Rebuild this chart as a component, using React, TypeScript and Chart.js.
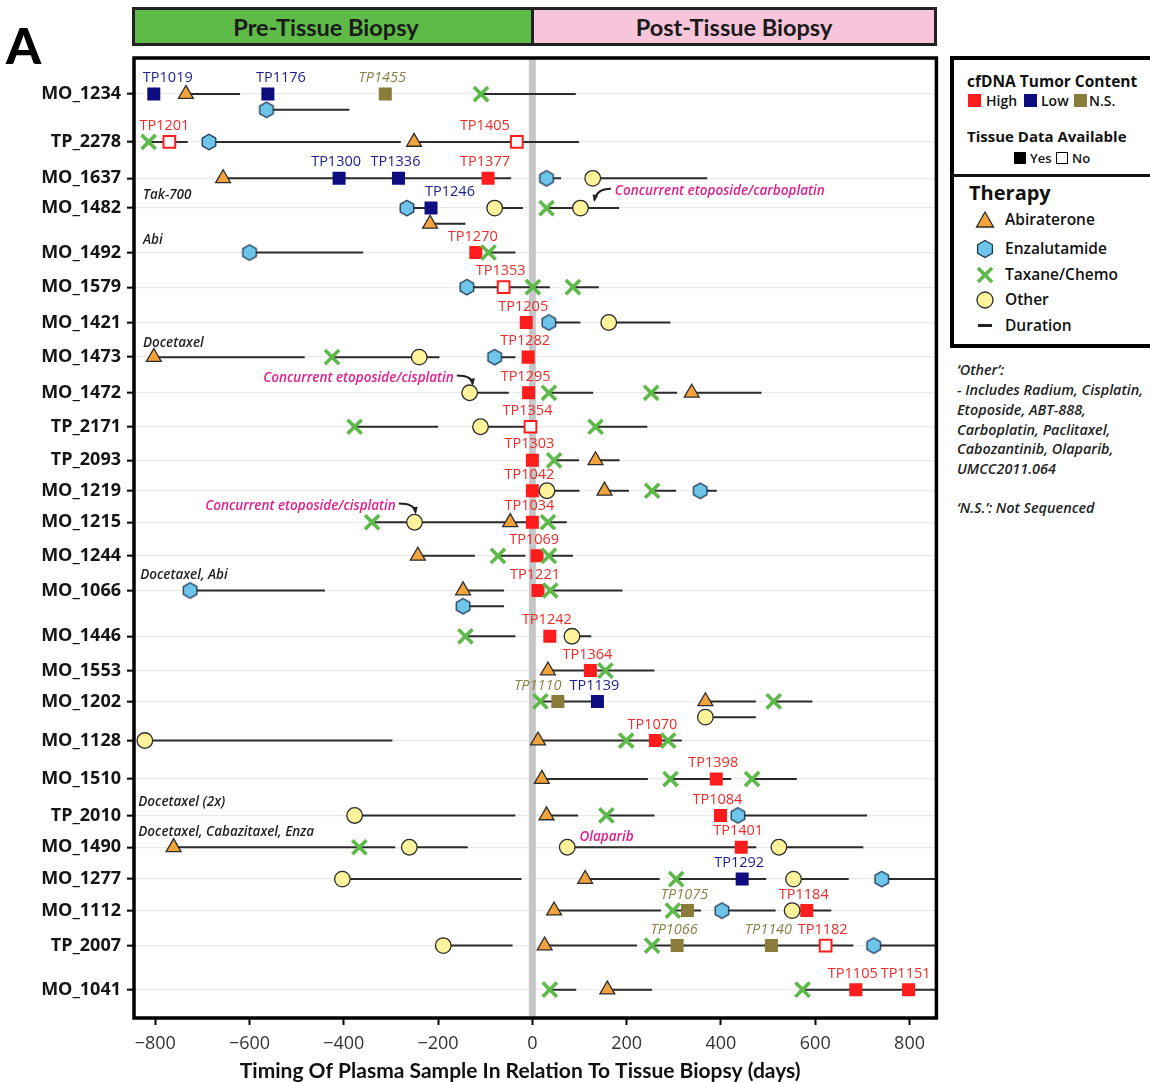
import React, { useEffect, useRef } from 'react';
import { Chart, registerables } from 'chart.js';

Chart.register(...registerables);

// ---------------- DATA ----------------
const patients = ['MO_1234','TP_2278','MO_1637','MO_1482','MO_1492','MO_1579','MO_1421','MO_1473','MO_1472','TP_2171','TP_2093','MO_1219','MO_1215','MO_1244','MO_1066','MO_1446','MO_1553','MO_1202','MO_1128','MO_1510','TP_2010','MO_1490','MO_1277','MO_1112','TP_2007','MO_1041'];
// vertical slot of each patient row (row units, top = 0)
const rowPos = [1.03,2.4,3.44,4.29,5.56,6.55,7.56,8.55,9.57,10.54,11.5,12.37,13.27,14.23,15.22,16.53,17.51,18.39,19.51,20.61,21.65,22.56,23.47,24.37,25.37,26.63];
const xTicks = [-800,-600,-400,-200,0,200,400,600,800];
const xTitle = 'Timing Of Plasma Sample In Relation To Tissue Biopsy (days)';

// therapy: [patient, sub-lane, start day, end day]
const abiraterone: [string, number, number, number][] = [
  ['MO_1234',0,-735,-620],['TP_2278',0,-251,99],['MO_1637',0,-656,-45],['MO_1482',1,-217,-142],
  ['MO_1473',0,-803,-483],['MO_1472',0,338,486],['TP_2093',0,134,185],['MO_1219',0,153,205],
  ['MO_1215',0,-47,5],['MO_1244',0,-243,-122],['MO_1066',0,-147,-60],['MO_1553',0,33,150],
  ['MO_1202',0,367,474],['MO_1128',0,12,199],['MO_1510',0,20,245],['TP_2010',0,30,97],
  ['MO_1490',0,-761,-367],['MO_1277',0,112,270],['MO_1112',0,46,273],['TP_2007',0,26,222],
  ['MO_1041',0,159,254],
];
const enzalutamide: [string, number, number, number][] = [
  ['MO_1234',1,-564,-388],['TP_2278',0,-686,-279],['MO_1637',0,30,61],['MO_1482',0,-266,-215],
  ['MO_1492',0,-600,-359],['MO_1579',0,-139,-5],['MO_1421',0,35,102],['MO_1473',0,-80,-36],
  ['MO_1219',0,356,391],['MO_1066',0,-726,-440],['MO_1066',1,-147,-60],['TP_2010',0,436,710],
  ['MO_1277',0,741,900],['MO_1112',0,402,516],['TP_2007',0,724,900],
];
const taxaneChemo: [string, number, number, number][] = [
  ['MO_1234',0,-109,92],['TP_2278',0,-814,-731],['MO_1482',0,30,95],['MO_1492',0,-93,-36],
  ['MO_1579',0,1,37],['MO_1579',0,86,141],['MO_1473',0,-425,-240],['MO_1472',0,35,129],
  ['MO_1472',0,252,307],['TP_2171',0,-377,-200],['TP_2171',0,134,244],['TP_2093',0,46,99],
  ['MO_1219',0,254,305],['MO_1215',0,-340,-250],['MO_1215',0,33,73],['MO_1244',0,-73,-15],
  ['MO_1244',0,35,86],['MO_1066',0,38,191],['MO_1446',0,-142,-36],['MO_1553',0,155,259],
  ['MO_1202',0,17,138],['MO_1202',0,512,594],['MO_1128',0,199,288],['MO_1128',0,288,317],
  ['MO_1510',0,293,422],['MO_1510',0,466,561],['TP_2010',0,157,259],['MO_1490',0,-367,-291],
  ['MO_1277',0,305,496],['MO_1112',0,298,358],['TP_2007',0,254,681],['MO_1041',0,37,93],
  ['MO_1041',0,573,900],
];
const otherTherapy: [string, number, number, number][] = [
  ['MO_1637',0,128,371],['MO_1482',0,-80,-20],['MO_1482',0,102,184],['MO_1421',0,162,293],
  ['MO_1473',0,-240,-197],['MO_1472',0,-133,-50],['TP_2171',0,-110,-10],['MO_1219',0,31,100],
  ['MO_1215',0,-250,-47],['MO_1446',0,84,125],['MO_1202',1,367,474],['MO_1128',0,-822,-297],
  ['TP_2010',0,-377,-36],['MO_1490',0,-261,-137],['MO_1490',0,74,475],['MO_1490',0,523,702],
  ['MO_1277',0,-403,-23],['MO_1277',0,554,671],['MO_1112',0,551,634],['TP_2007',0,-189,-42],
];

// plasma samples: [patient, sample, day]
const highWithTissue: [string, string, number][] = [
  ['MO_1637','TP1377',-94],['MO_1492','TP1270',-120],['MO_1421','TP1205',-13],['MO_1473','TP1282',-9],
  ['MO_1472','TP1295',-8],['TP_2093','TP1303',0],['MO_1219','TP1042',0],['MO_1215','TP1034',0],
  ['MO_1244','TP1069',10],['MO_1066','TP1221',12],['MO_1446','TP1242',37],['MO_1553','TP1364',123],
  ['MO_1128','TP1070',261],['MO_1510','TP1398',390],['TP_2010','TP1084',399],['MO_1490','TP1401',443],
  ['MO_1112','TP1184',582],['MO_1041','TP1105',686],['MO_1041','TP1151',798],
];
const highNoTissue: [string, string, number][] = [
  ['TP_2278','TP1201',-770],['TP_2278','TP1405',-33],['MO_1579','TP1353',-61],['TP_2171','TP1354',-4],
  ['TP_2007','TP1182',622],
];
const lowWithTissue: [string, string, number][] = [
  ['MO_1234','TP1019',-803],['MO_1234','TP1176',-561],['MO_1637','TP1300',-410],['MO_1637','TP1336',-284],
  ['MO_1482','TP1246',-215],['MO_1202','TP1139',138],['MO_1277','TP1292',445],
];
const notSequenced: [string, string, number][] = [
  ['MO_1234','TP1455',-312],['MO_1202','TP1110',54],['MO_1112','TP1075',329],['TP_2007','TP1066',307],
  ['TP_2007','TP1140',507],
];

// text notes: [patient, text, day]
const blackNotes: [string, string, number][] = [
  ['MO_1482','Tak-700',-826],['MO_1492','Abi',-826],['MO_1473','Docetaxel',-826],
  ['MO_1066','Docetaxel, Abi',-832],['TP_2010','Docetaxel (2x)',-836],
  ['MO_1490','Docetaxel, Cabazitaxel, Enza',-836],
];
const magentaNotes: [string, string, number][] = [
  ['MO_1482','Concurrent etoposide/carboplatin',175],
  ['MO_1472','Concurrent etoposide/cisplatin',-571],
  ['MO_1215','Concurrent etoposide/cisplatin',-694],
  ['MO_1490','Olaparib',100],
];
// arrows: [magenta note index, target "other" day]
const noteArrows: [number, number][] = [[0, 102], [1, -133], [2, -250]];

// ---------------- STYLE / LAYOUT ----------------
const LANE = 0.45;
const noteDy: Record<string, number> = {
  'Tak-700': -0.38, 'Abi': -0.36, 'Docetaxel': -0.4, 'Docetaxel, Abi': -0.45,
  'Docetaxel (2x)': -0.38, 'Docetaxel, Cabazitaxel, Enza': -0.43,
};
const magentaDy = [-0.47, -0.41, -0.45, -0.28];
const arrowStyle = [
  { side: 'left', tipDx: 14, tipDy: -8 },
  { side: 'right', tipDx: 3, tipDy: -9 },
  { side: 'right', tipDx: 1, tipDy: -10 },
];
const labelNudge: Record<string, number> = { TP1019: 14, TP1176: 13, TP1246: 19, TP1110: -20, TP1405: -32, TP1201: -5 };

const COL = {
  high: '#ff1c1c', highText: '#ee2a2a', low: '#0d0d80', lowText: '#1c1c8c', ns: '#8a7c3a', nsText: '#8a8048',
  abi: '#f2a33c', enza: '#6dc6ea', tax: '#5cb94a', other: '#fff49c', line: '#2b2b2b', magenta: '#e0208c',
};
const NOTE_FONT = 'italic 600 13.5px "Open Sans"';

const yOf = (p: string, lane: number) => rowPos[patients.indexOf(p)] + lane * LANE;

function makeHex(): HTMLCanvasElement {
  const c = document.createElement('canvas');
  c.width = 20; c.height = 20;
  const g = c.getContext('2d')!;
  const R = 7.8;
  g.beginPath();
  for (let i = 0; i < 6; i++) {
    const a = Math.PI / 3 * i - Math.PI / 2;
    const px = 10 + R * Math.cos(a), py = 10 + R * Math.sin(a);
    if (i === 0) g.moveTo(px, py); else g.lineTo(px, py);
  }
  g.closePath();
  g.fillStyle = COL.enza; g.fill();
  g.lineWidth = 1.3; g.strokeStyle = '#1d3550'; g.stroke();
  return c;
}

function drawArrow(ctx: CanvasRenderingContext2D, sx: number, sy: number, cx: number, cy: number, tx: number, ty: number) {
  ctx.beginPath();
  ctx.moveTo(sx, sy);
  ctx.quadraticCurveTo(cx, cy, tx, ty);
  ctx.strokeStyle = '#222'; ctx.lineWidth = 2; ctx.stroke();
  const ang = Math.atan2(ty - cy, tx - cx);
  const L = 6;
  ctx.beginPath();
  ctx.moveTo(tx + Math.cos(ang) * 2, ty + Math.sin(ang) * 2);
  ctx.lineTo(tx - L * Math.cos(ang - 0.5), ty - L * Math.sin(ang - 0.5));
  ctx.lineTo(tx - L * Math.cos(ang + 0.5), ty - L * Math.sin(ang + 0.5));
  ctx.closePath(); ctx.fillStyle = '#222'; ctx.fill();
}

const overlay = {
  id: 'overlay',
  beforeDatasetsDraw(chart: any) {
    const { ctx, chartArea: a, scales } = chart;
    const x0 = scales.x.getPixelForValue(0);
    ctx.save();
    ctx.fillStyle = '#c6c6c6';
    ctx.fillRect(x0 - 3.5, a.top, 7, a.bottom - a.top);
    ctx.restore();
  },
  afterDatasetsDraw(chart: any) {
    const { ctx, chartArea: a, scales: { x, y } } = chart;
    ctx.save();
    // sample labels
    chart.data.datasets.forEach((ds: any, i: number) => {
      if (!ds.sampleNames) return;
      const meta = chart.getDatasetMeta(i);
      ctx.font = ds.labelFont;
      ctx.fillStyle = ds.labelColor;
      ctx.textAlign = 'center';
      ctx.textBaseline = 'middle';
      meta.data.forEach((el: any, j: number) => {
        const name = ds.sampleNames[j];
        const dx = labelNudge[name] ?? -3;
        ctx.fillText(name, el.x + dx, el.y - 16);
      });
    });
    // black italic notes
    ctx.textAlign = 'left'; ctx.textBaseline = 'middle';
    ctx.font = NOTE_FONT;
    ctx.fillStyle = '#1e1e1e';
    blackNotes.forEach(([p, t, d]) => {
      ctx.fillText(t, x.getPixelForValue(d), y.getPixelForValue(yOf(p, 0) + noteDy[t]));
    });
    // magenta notes
    ctx.fillStyle = COL.magenta;
    const boxes: any[] = [];
    magentaNotes.forEach(([p, t, d], i) => {
      const px = x.getPixelForValue(d), py = y.getPixelForValue(yOf(p, 0) + magentaDy[i]);
      ctx.fillText(t, px, py);
      boxes.push({ l: px, r: px + ctx.measureText(t).width, y: py, p });
    });
    noteArrows.forEach(([ni, day], k) => {
      const b = boxes[ni];
      const st = arrowStyle[k];
      const tx = x.getPixelForValue(day) + st.tipDx;
      const ty = y.getPixelForValue(yOf(b.p, 0)) + st.tipDy;
      const sx = st.side === 'left' ? b.l - 4 : b.r + 3;
      const sy = b.y - 3;
      drawArrow(ctx, sx, sy, tx + (st.side === 'left' ? 2 : -1), sy, tx, ty);
    });
    // frame
    ctx.strokeStyle = '#000';
    ctx.lineWidth = 3.5;
    ctx.strokeRect(a.left, a.top, a.right - a.left, a.bottom - a.top);
    // axis title (centred slightly left of plot centre, as in the figure)
    ctx.font = 'bold 21px Lato';
    ctx.fillStyle = '#111';
    ctx.textAlign = 'center';
    ctx.textBaseline = 'middle';
    ctx.fillText(xTitle, (a.left + a.right) / 2 - 15, chart.height - 11);
    ctx.restore();
  },
};

function buildConfig(hex: HTMLCanvasElement): any {
  const durationPts: any[] = [];
  [abiraterone, enzalutamide, taxaneChemo, otherTherapy].forEach(arr =>
    arr.forEach(([p, l, s, e]) => {
      const yy = yOf(p, l);
      durationPts.push({ x: s, y: yy }, { x: e, y: yy }, { x: e, y: null });
    })
  );
  const therapy = (label: string, arr: [string, number, number, number][], st: any) => ({
    label, data: arr.map(([p, l, s]) => ({ x: s, y: yOf(p, l) })), showLine: false, order: 1, ...st,
  });
  const sample = (label: string, arr: [string, string, number][], st: any) => ({
    label, data: arr.map(([p, , d]) => ({ x: d, y: yOf(p, 0) })), sampleNames: arr.map(r => r[1]),
    showLine: false, order: 2, ...st,
  });
  return {
    type: 'scatter',
    data: {
      datasets: [
        { label: 'Duration', data: durationPts, showLine: true, spanGaps: false, borderColor: COL.line,
          borderWidth: 2, pointRadius: 0, order: 3, clip: 0 },
        sample('High', highWithTissue, { pointStyle: 'rect', pointRadius: 9.2, pointBackgroundColor: COL.high,
          pointBorderWidth: 0, labelColor: COL.highText, labelFont: '14.5px "Open Sans"' }),
        sample('High (no tissue)', highNoTissue, { pointStyle: 'rect', pointRadius: 8.3, pointBackgroundColor: '#fff',
          pointBorderColor: COL.high, pointBorderWidth: 2, labelColor: COL.highText, labelFont: '14.5px "Open Sans"' }),
        sample('Low', lowWithTissue, { pointStyle: 'rect', pointRadius: 9.2, pointBackgroundColor: COL.low,
          pointBorderWidth: 0, labelColor: COL.lowText, labelFont: '14.5px "Open Sans"' }),
        sample('N.S.', notSequenced, { pointStyle: 'rect', pointRadius: 9.2, pointBackgroundColor: COL.ns,
          pointBorderWidth: 0, labelColor: COL.nsText, labelFont: 'italic 14.5px "Open Sans"' }),
        therapy('Abiraterone', abiraterone, { pointStyle: 'triangle', pointRadius: 8.6, pointBackgroundColor: COL.abi,
          pointBorderColor: '#2d2d2d', pointBorderWidth: 1.3 }),
        therapy('Enzalutamide', enzalutamide, { pointStyle: hex, pointRadius: 9 }),
        therapy('Taxane/Chemo', taxaneChemo, { pointStyle: 'crossRot', pointRadius: 10, pointBorderColor: COL.tax,
          pointBorderWidth: 3.6 }),
        therapy('Other', otherTherapy, { pointStyle: 'circle', pointRadius: 7.8, pointBackgroundColor: COL.other,
          pointBorderColor: '#2a2a2a', pointBorderWidth: 1.3 }),
      ],
    },
    options: {
      responsive: false,
      animation: false,
      events: [],
      layout: { padding: { top: 58, right: 13, left: 0, bottom: 0 } },
      plugins: { legend: { display: false }, tooltip: { enabled: false } },
      scales: {
        x: {
          type: 'linear', min: -845, max: 857,
          afterBuildTicks: (s: any) => { s.ticks = xTicks.map(v => ({ value: v })); },
          afterFit: (s: any) => { s.height = 64; },
          border: { display: false },
          grid: { drawOnChartArea: false, drawTicks: true, tickLength: 7, tickColor: '#000', tickWidth: 2 },
          ticks: {
            padding: 8, color: '#333', font: { family: '"Open Sans"', size: 18 },
            callback: (v: number) => (v < 0 ? '\u2212' + Math.abs(v) : String(v)),
            maxRotation: 0, autoSkip: false,
          },
          title: { display: false },
        },
        y: {
          type: 'linear', reverse: true, min: 0, max: 27.44,
          afterBuildTicks: (s: any) => { s.ticks = rowPos.map(v => ({ value: v })); },
          afterFit: (s: any) => { s.width = 134; },
          border: { display: false },
          grid: { color: '#eaeaea', lineWidth: 1.3, drawTicks: true, tickLength: 7, tickColor: '#000', tickWidth: 2 },
          ticks: {
            padding: 6, color: '#151515', font: { family: '"Open Sans"', size: 18, weight: 'bold' },
            callback: (_v: number, i: number) => patients[i], autoSkip: false,
          },
        },
      },
    },
    plugins: [overlay],
  };
}

const abs = (l: number, t: number, extra: any = {}) => ({ position: 'absolute' as const, left: l, top: t, ...extra });
const Txt = ({ x, y, children, style }: any) => (
  <div style={abs(x, y - 11, { height: 22, lineHeight: '22px', whiteSpace: 'nowrap', ...style })}>{children}</div>
);

export default function App() {
  const ref = useRef<HTMLCanvasElement>(null);
  useEffect(() => {
    document.body.style.margin = '0';
    const chart = new Chart(ref.current!, buildConfig(makeHex()));
    return () => chart.destroy();
  }, []);

  const legendFont = { fontFamily: '"Open Sans", sans-serif', color: '#111' };
  const itemStyle = { ...legendFont, fontSize: 15.5, fontWeight: 600 };
  const noteStyle = { fontFamily: '"Open Sans", sans-serif', fontStyle: 'italic', fontWeight: 600, fontSize: 14.4, color: '#1e1e1e' };

  return (
    <div style={{ position: 'relative', width: 1150, height: 1082, overflow: 'hidden', background: '#fff' }}>
      <canvas ref={ref} width={950} height={1082} style={abs(0, 0, { width: 950, height: 1082 })} />

      {/* panel letter */}
      <div style={abs(6, 18, { fontFamily: 'Lato, sans-serif', fontWeight: 900, fontSize: 50, lineHeight: '54px' })}>A</div>

      {/* header bars */}
      <div style={abs(132, 7, { width: 402, height: 39, boxSizing: 'border-box', border: '3px solid #222', background: '#5fbb47',
        display: 'flex', alignItems: 'center', justifyContent: 'center', fontFamily: 'Lato, sans-serif', fontWeight: 700,
        fontSize: 23.5, color: '#1a1a1a', paddingRight: 14 })}>Pre-Tissue Biopsy</div>
      <div style={abs(531, 7, { width: 406, height: 39, boxSizing: 'border-box', border: '3px solid #222', background: '#f7c5d9',
        display: 'flex', alignItems: 'center', justifyContent: 'center', fontFamily: 'Lato, sans-serif', fontWeight: 700,
        fontSize: 23.5, color: '#1a1a1a' })}>Post-Tissue Biopsy</div>

      {/* legend box */}
      <div style={abs(950, 56, { width: 230, height: 292, boxSizing: 'border-box', border: '4px solid #000' })} />
      <div style={abs(950, 174, { width: 230, height: 2.5, background: '#111' })} />
      <Txt x={967} y={81} style={{ ...legendFont, fontSize: 15.5, fontWeight: 700 }}>cfDNA Tumor Content</Txt>
      <div style={abs(968, 94, { width: 13, height: 13, background: COL.high })} />
      <Txt x={986} y={101} style={{ ...legendFont, fontSize: 14, fontWeight: 600 }}>High</Txt>
      <div style={abs(1024, 94, { width: 13, height: 13, background: COL.low })} />
      <Txt x={1041} y={101} style={{ ...legendFont, fontSize: 14, fontWeight: 600 }}>Low</Txt>
      <div style={abs(1074, 94, { width: 13, height: 13, background: COL.ns })} />
      <Txt x={1089} y={101} style={{ ...legendFont, fontSize: 14, fontWeight: 600 }}>N.S.</Txt>
      <Txt x={967} y={136} style={{ ...legendFont, fontSize: 15, fontWeight: 700 }}>Tissue Data Available</Txt>
      <div style={abs(1014, 152, { width: 12, height: 12, background: '#000' })} />
      <Txt x={1030} y={158} style={{ ...legendFont, fontSize: 13, fontWeight: 600 }}>Yes</Txt>
      <div style={abs(1056, 152, { width: 12, height: 12, boxSizing: 'border-box', border: '1.5px solid #000', background: '#fff' })} />
      <Txt x={1072} y={158} style={{ ...legendFont, fontSize: 13, fontWeight: 600 }}>No</Txt>
      <Txt x={969} y={193} style={{ ...legendFont, fontSize: 20, fontWeight: 700 }}>Therapy</Txt>

      <svg style={abs(975, 210)} width={20} height={20}>
        <polygon points="10,2 18.5,17 1.5,17" fill={COL.abi} stroke="#2d2d2d" strokeWidth={1.3} />
      </svg>
      <svg style={abs(975, 239)} width={20} height={20}>
        <polygon points="10,1.5 17.4,5.8 17.4,14.2 10,18.5 2.6,14.2 2.6,5.8" fill={COL.enza} stroke="#1d3550" strokeWidth={1.3} />
      </svg>
      <svg style={abs(975, 265)} width={20} height={20}>
        <line x1={3} y1={3} x2={17} y2={17} stroke={COL.tax} strokeWidth={3.6} />
        <line x1={17} y1={3} x2={3} y2={17} stroke={COL.tax} strokeWidth={3.6} />
      </svg>
      <svg style={abs(975, 290)} width={20} height={20}>
        <circle cx={10} cy={10} r={8} fill={COL.other} stroke="#2a2a2a" strokeWidth={1.3} />
      </svg>
      <div style={abs(978, 324, { width: 14, height: 3, background: '#222' })} />
      <Txt x={1005} y={219} style={itemStyle}>Abiraterone</Txt>
      <Txt x={1005} y={248} style={itemStyle}>Enzalutamide</Txt>
      <Txt x={1005} y={274} style={itemStyle}>Taxane/Chemo</Txt>
      <Txt x={1005} y={299} style={itemStyle}>Other</Txt>
      <Txt x={1005} y={325} style={itemStyle}>Duration</Txt>

      {/* notes */}
      <Txt x={957} y={370} style={noteStyle}>‘Other’:</Txt>
      <Txt x={957} y={390} style={noteStyle}>- Includes Radium, Cisplatin,</Txt>
      <Txt x={957} y={410} style={noteStyle}>Etoposide, ABT-888,</Txt>
      <Txt x={957} y={430} style={noteStyle}>Carboplatin, Paclitaxel,</Txt>
      <Txt x={957} y={449} style={noteStyle}>Cabozantinib, Olaparib,</Txt>
      <Txt x={957} y={469} style={noteStyle}>UMCC2011.064</Txt>
      <Txt x={957} y={508} style={noteStyle}>‘N.S.’: Not Sequenced</Txt>
    </div>
  );
}
